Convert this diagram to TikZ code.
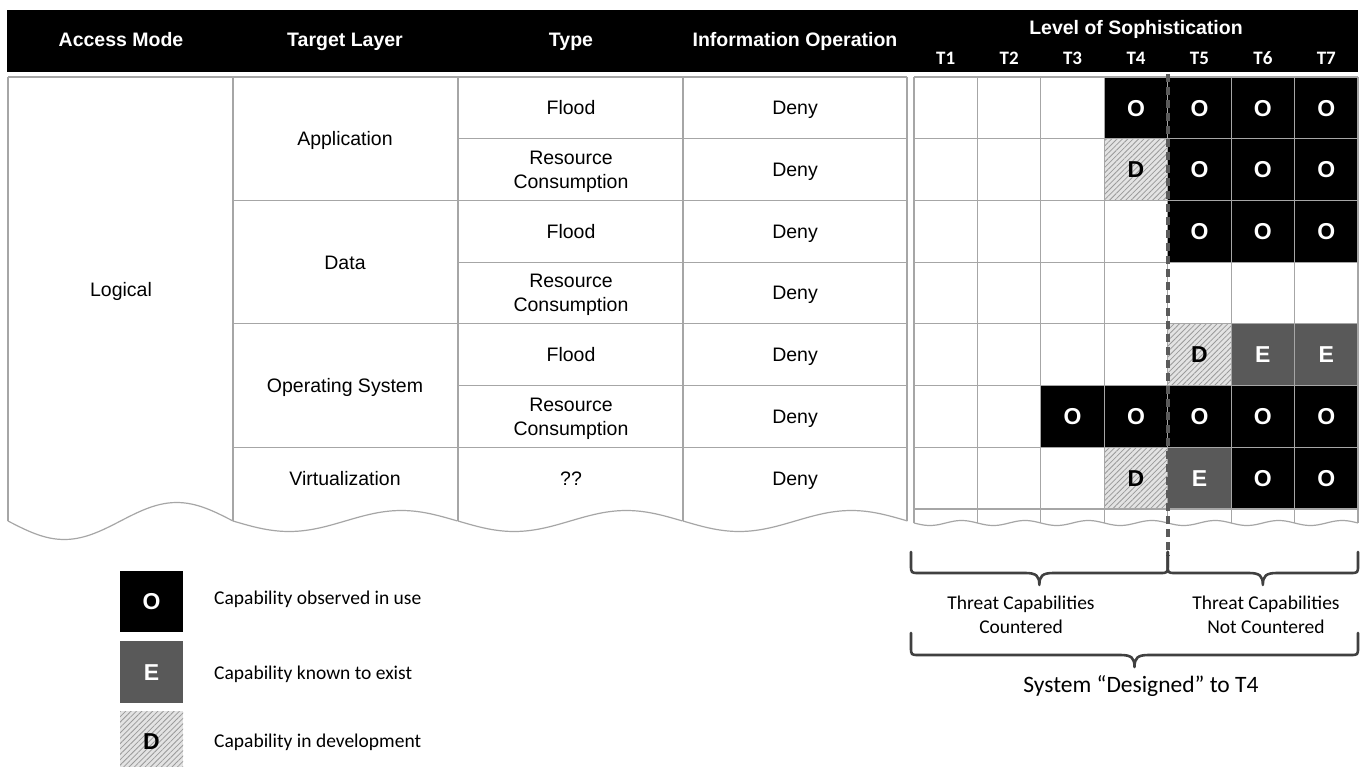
\documentclass[tikz,border=0pt]{standalone}
\usepackage{fontspec}
\setmainfont{Liberation Sans}
\newfontfamily\calibri{Carlito}
\usetikzlibrary{patterns.meta}
\definecolor{gridc}{HTML}{A6A6A6}
\definecolor{ecol}{HTML}{595959}
\definecolor{hatchbg}{HTML}{E3E3E3}
\definecolor{hatchln}{HTML}{9A9A9A}
\definecolor{bracec}{HTML}{404040}
\definecolor{dashc}{HTML}{5A5A5A}
\newcommand\mybrace[5]{%
  \pgfmathsetmacro\bxm{(#1+#2)/2}%
  \draw[bracestyle] (#1,#3) -- (#1,#4-8) .. controls (#1,#4) .. (#1+8,#4)
    -- (\bxm-14,#4) .. controls (\bxm-3,#4) and (\bxm,#4+3) .. (\bxm,#5)
    .. controls (\bxm,#4+3) and (\bxm+3,#4) .. (\bxm+14,#4)
    -- (#2-8,#4) .. controls (#2,#4) .. (#2,#4-8) -- (#2,#3);}
\begin{document}
\begin{tikzpicture}[x=1pt,y=-1pt,
  gridline/.style={draw=gridc, line width=1.2pt},
  hdrtext/.style={text=white, font=\fontsize{19.5}{23}\selectfont\bfseries, inner sep=0pt, text height=14pt, text depth=0pt},
  tlabel/.style={text=white, font=\calibri\fontsize{19}{22}\selectfont\bfseries, inner sep=0pt, text height=12.2pt, text depth=0pt},
  celltext/.style={font=\fontsize{19.5}{24}\selectfont, inner sep=0pt, text height=14pt, text depth=0pt},
  twoline/.style={font=\fontsize{19.5}{24}\selectfont, align=center, inner sep=0pt, yshift=-2pt},
  lettw/.style={text=white, font=\fontsize{23}{26}\selectfont\bfseries, inner sep=0pt, text height=16.5pt, text depth=0pt},
  lettb/.style={text=black, font=\fontsize{23}{26}\selectfont\bfseries, inner sep=0pt, text height=16.5pt, text depth=0pt},
  legtext/.style={font=\calibri\fontsize{19.5}{23}\selectfont, anchor=west, inner sep=0pt, text height=12.5pt, text depth=0pt},
  bractext/.style={font=\calibri\fontsize{19.5}{24}\selectfont, align=center, inner sep=0pt},
  syslabel/.style={font=\calibri\fontsize{23.5}{28}\selectfont, inner sep=0pt, text height=15.1pt, text depth=0pt},
  ocell/.style={fill=black},
  ecell/.style={fill=ecol},
  dcell/.style={fill=hatchbg, postaction={pattern={Lines[angle=45,distance=3.8pt,line width=0.8pt]}, pattern color=hatchln}},
  bracestyle/.style={draw=bracec, line width=2.6pt, line cap=round, line join=round},
  dashline/.style={draw=dashc, line width=3.6pt, dash pattern=on 8pt off 5pt},
]
\useasboundingbox (0,0) rectangle (1362,767);
\fill[white] (0,0) rectangle (1362,767);

% header band
\fill[black] (7,10) rectangle (1358,72);
\node[hdrtext] (hAccess) at (121,40) {Access Mode};
\node[hdrtext] (hTarget) at (345,40) {Target Layer};
\node[hdrtext] (hType) at (571,40) {Type};
\node[hdrtext] (hInfo) at (795,40) {Information Operation};
\node[hdrtext] (hLevel) at (1136,28) {Level of Sophistication};
\foreach \c in {1,...,7}{
  \node[tlabel] (t\c) at (914+\c*63.43-31.7,58) {T\c};
}

% left table lines
\draw[gridline] (8,77) -- (907,77);
\foreach \xx in {8,233,458,683,907}{
  \draw[gridline] (\xx,77) -- (\xx,521);
}
\foreach \r in {2,4,6}{
  \draw[gridline] (233,77+\r*61.71) -- (458,77+\r*61.71);
}
\foreach \r in {1,...,6}{
  \draw[gridline] (458,77+\r*61.71) -- (907,77+\r*61.71);
}
\draw[gridline] plot[domain=0:1, samples=60, smooth] ({8+\x*225},{521+18.5*sin(360*\x)});
\foreach \xa in {233,458,683}{
  \draw[gridline] plot[domain=0:1, samples=60, smooth] ({\xa+\x*224.5},{521+10.5*sin(360*\x)});
}

% left table texts
\node[celltext] (logical) at (121,290) {Logical};
\node[celltext] (app) at (345,138.7) {Application};
\node[celltext] (data) at (345,262.1) {Data};
\node[celltext] (os) at (345,385.6) {Operating System};
\node[celltext] (virt) at (345,478.2) {Virtualization};
\foreach \r in {1,3,5}{
  \node[celltext] (type\r) at (571,77+\r*61.71-30.86) {Flood};
}
\foreach \r in {2,4,6}{
  \node[twoline] (type\r) at (571,77+\r*61.71-30.86) {Resource\\Consumption};
}
\node[celltext] (type7) at (571,478.2) {??};
\foreach \r in {1,...,7}{
  \node[celltext] (deny\r) at (795,77+\r*61.71-30.86) {Deny};
}

% right grid cells
\foreach \c/\r in {4/1,5/1,6/1,7/1,5/2,6/2,7/2,5/3,6/3,7/3,3/6,4/6,5/6,6/6,7/6,6/7,7/7}{
  \fill[ocell] (914+\c*63.43-63.43,77+\r*61.71-61.71) rectangle (914+\c*63.43,77+\r*61.71);
  \node[lettw] (o\c\r) at (914+\c*63.43-31.7,77+\r*61.71-30.86) {O};
}
\foreach \c/\r in {6/5,7/5,5/7}{
  \fill[ecell] (914+\c*63.43-63.43,77+\r*61.71-61.71) rectangle (914+\c*63.43,77+\r*61.71);
  \node[lettw] (e\c\r) at (914+\c*63.43-31.7,77+\r*61.71-30.86) {E};
}
\foreach \c/\r in {4/2,5/5,4/7}{
  \path[dcell] (914+\c*63.43-63.43,77+\r*61.71-61.71) rectangle (914+\c*63.43,77+\r*61.71);
  \node[lettb] (d\c\r) at (914+\c*63.43-31.7,77+\r*61.71-30.86) {D};
}

% right grid lines
\foreach \c in {0,...,7}{
  \draw[gridline] (914+\c*63.43,77) -- (914+\c*63.43,523);
}
\foreach \r in {0,...,7}{
  \draw[gridline] (914,77+\r*61.71) -- (1358,77+\r*61.71);
}
\draw[gridline] plot[domain=0:7, samples=200, smooth] ({914+\x*63.43},{523+2.5*sin(360*\x)});

% design threshold
\coordinate (dtop) at (1167.7,74);
\coordinate (dbot) at (1167.7,556);
\draw[dashline] (dtop) -- (dbot);

% braces
\mybrace{911}{1167.7}{552}{573}{585}
\mybrace{1167.7}{1358}{552}{573}{585}
\mybrace{911}{1358}{633}{655}{667}
\node[bractext] (countered) at (1021,615) {Threat Capabilities\\Countered};
\node[bractext] (notcountered) at (1266,615) {Threat Capabilities\\Not Countered};
\node[syslabel] (system) at (1141,685) {System “Designed” to T4};

% legend
\fill[ocell] (120,571) rectangle (183,632);
\node[lettw] (legO) at (151.5,601.5) {O};
\fill[ecell] (120,641) rectangle (183,703);
\node[lettw] (legE) at (151.5,672) {E};
\path[dcell] (120,711) rectangle (183,767);
\node[lettb] (legD) at (151.5,741) {D};
\node[legtext] (legOt) at (214,598) {Capability observed in use};
\node[legtext] (legEt) at (214,673) {Capability known to exist};
\node[legtext] (legDt) at (214,741) {Capability in development};
\end{tikzpicture}
\end{document}
